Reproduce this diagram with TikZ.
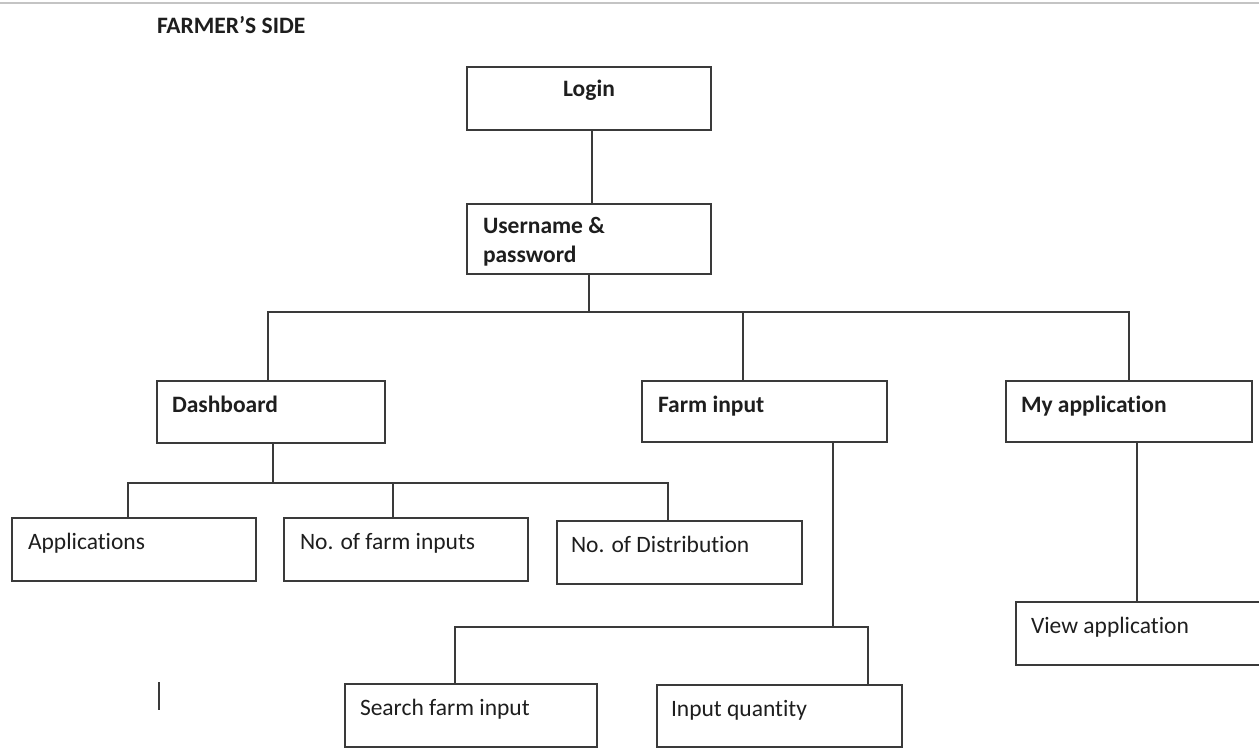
\documentclass[tikz,border=0pt]{standalone}
\usepackage{fontspec}
\setmainfont{Carlito}[RawFeature={-liga;-clig;-calt;-dlig}]
\definecolor{lineclr}{HTML}{3A3A3A}
\definecolor{txtclr}{HTML}{1E1E1E}
\definecolor{rulegray}{HTML}{C4C4C4}
\tikzset{
  boxnode/.style={draw=lineclr, line width=1.6pt, inner sep=0pt, outer sep=0pt, fill=white},
  txt/.style={inner sep=0pt, outer sep=0pt, text=txtclr, font=\fontsize{23.5}{29}\selectfont},
  btxt/.style={txt, font=\fontsize{23.5}{29}\selectfont\bfseries},
  conn/.style={draw=lineclr, line width=1.4pt}
}
\begin{document}
\begin{tikzpicture}[x=1pt,y=-1pt]
\useasboundingbox (0,0) rectangle (1259,748);
\fill[white] (0,0) rectangle (1259,748);
% top rule
\draw[rulegray, line width=2pt] (0,3) -- (1259,3);
% title
\node[btxt, anchor=base west] (title) at (157,33) {FARMER’S SIDE};

% boxes
\node[boxnode, minimum width=244pt, minimum height=63pt] (login) at (589,98.5) {};
\node[boxnode, minimum width=244pt, minimum height=70pt] (user) at (589,239) {};
\node[boxnode, minimum width=228pt, minimum height=62pt] (dash) at (271,412) {};
\node[boxnode, minimum width=245pt, minimum height=61pt] (farm) at (764.5,411.5) {};
\node[boxnode, minimum width=246pt, minimum height=61pt] (myapp) at (1129,411.5) {};
\node[boxnode, minimum width=244pt, minimum height=63pt] (apps) at (134,549.5) {};
\node[boxnode, minimum width=244pt, minimum height=63pt] (nofi) at (406,549.5) {};
\node[boxnode, minimum width=245pt, minimum height=63pt] (dist) at (679.5,552.5) {};
\node[boxnode, minimum width=252pt, minimum height=63pt] (search) at (471,715.5) {};
\node[boxnode, minimum width=245pt, minimum height=62pt] (iq) at (779.5,716) {};
\node[boxnode, minimum width=246pt, minimum height=63pt] (view) at (1139,633.5) {};

% texts
\node[btxt, anchor=base] (tlogin) at ([shift={(0,29)}]login.north) {Login};
\node[btxt, anchor=base west, align=left] (tuser) at ([shift={(16,58)}]user.north west) {Username \&\\password};
\node[btxt, anchor=base west] (tdash) at ([shift={(15,31)}]dash.north west) {Dashboard};
\node[btxt, anchor=base west] (tfarm) at ([shift={(16,31)}]farm.north west) {Farm input};
\node[btxt, anchor=base west] (tmyapp) at ([shift={(15,31)}]myapp.north west) {My application};
\node[txt, anchor=base west] (tapps) at ([shift={(16,31)}]apps.north west) {Applications};
\node[txt, anchor=base west] (tnofi) at ([shift={(16,31)}]nofi.north west) {No. of farm inputs};
\node[txt, anchor=base west] (tdist) at ([shift={(14,31)}]dist.north west) {No. of Distribution};
\node[txt, anchor=base west] (tsearch) at ([shift={(15,31)}]search.north west) {Search farm input};
\node[txt, anchor=base west] (tiq) at ([shift={(14,31)}]iq.north west) {Input quantity};
\node[txt, anchor=base west] (tview) at ([shift={(15,31)}]view.north west) {View application};

% connectors
\draw[conn] ([xshift=3pt]login.south) -- ([xshift=3pt]user.north);

\coordinate (j1) at ([shift={(0,38)}]user.south);
\draw[conn] (user.south) -- (j1);
\draw[conn] ([xshift=-3pt]dash.north) -- ([xshift=-3pt]dash.north |- j1) -- (myapp.north |- j1) -- (myapp.north);
\draw[conn] ([xshift=-21.5pt]farm.north) -- ([xshift=-21.5pt]farm.north |- j1);

\coordinate (j2) at ([shift={(2,40)}]dash.south);
\draw[conn] ([xshift=2pt]dash.south) -- (j2);
\draw[conn] ([xshift=-6pt]apps.north) -- ([xshift=-6pt]apps.north |- j2) -- ([xshift=-11.5pt]dist.north |- j2) -- ([xshift=-11.5pt]dist.north);
\draw[conn] ([xshift=-13pt]nofi.north) -- ([xshift=-13pt]nofi.north |- j2);

\coordinate (j3) at ([shift={(68.5,185)}]farm.south);
\draw[conn] ([xshift=68.5pt]farm.south) -- (j3);
\draw[conn] ([xshift=-16pt]search.north) -- ([xshift=-16pt]search.north |- j3) -- ([xshift=88.5pt]iq.north |- j3) -- ([xshift=88.5pt]iq.north);

\draw[conn] ([xshift=8pt]myapp.south) -- ([xshift=8pt]myapp.south |- view.north);

% stray mark
\draw[conn] (159,682) -- (159,710);
\end{tikzpicture}
\end{document}
